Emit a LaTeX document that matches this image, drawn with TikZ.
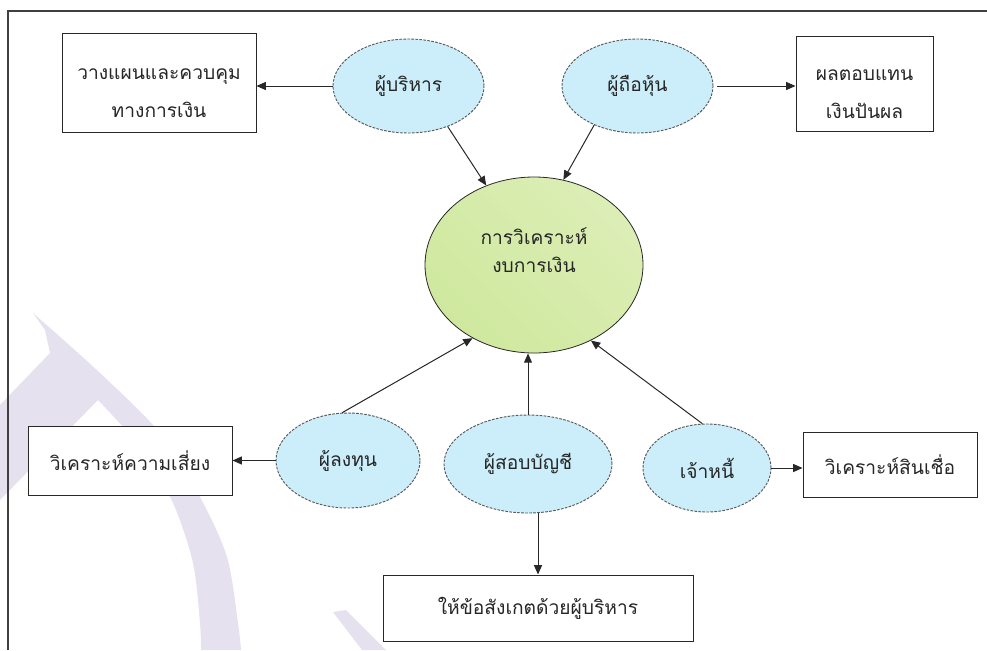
\documentclass[tikz,border=0pt]{standalone}
\usepackage{fontspec}
\newfontfamily\thaifont[Script=Thai]{Loma}
\usetikzlibrary{arrows.meta,shapes.geometric}
\definecolor{ellfill}{RGB}{204,238,250}
\definecolor{grnA}{RGB}{220,238,182}
\definecolor{grnB}{RGB}{207,232,158}
\definecolor{wmark}{RGB}{229,225,239}
\definecolor{lineC}{RGB}{40,40,40}
\begin{document}
\begin{tikzpicture}[x=0.75pt,y=-0.75pt,
  font=\thaifont\fontsize{14.4}{21}\selectfont,
  box/.style={draw=lineC,line width=0.75pt,fill=white,rectangle,inner sep=0pt,align=center,text=black!85},
  ell/.style={draw=black!65,fill=ellfill,ellipse,dash pattern=on 2pt off 1pt,line width=0.7pt,inner sep=0pt,text=black!85},
  arr/.style={draw=lineC,line width=0.75pt,-{Triangle[length=7pt,width=6pt]}}]
\useasboundingbox (0,0) rectangle (987,650);
% watermark
\fill[wmark] (0,405) -- (50,353) -- (45,330) -- (33,313)
  -- plot[smooth] coordinates {(33,313) (100,373) (160,433) (200,497) (227,557) (238,623) (241,650)}
  -- (201,650)
  -- plot[smooth] coordinates {(201,650) (200,623) (193,563) (173,503) (140,447) (98,400)}
  -- (0,500) -- cycle;
\fill[wmark] (333,612) -- (346,610) -- (386,650) -- (362,650) -- cycle;
% frame
\draw[black!75,line width=0.8pt] (8,650) -- (8,11) -- (987,11);
% nodes
\node[box,minimum width=145.5pt,minimum height=74.25pt] (b1) at (159,82.5) {\rule{0pt}{24pt}วางแผนและควบคุม\\[8pt]ทางการเงิน};
\node[box,minimum width=102.75pt,minimum height=71.25pt] (b2) at (864.5,83.5) {\rule{0pt}{24pt}ผลตอบแทน\\[8pt]เงินปันผล};
\node[box,minimum width=153pt,minimum height=51.75pt] (b3) at (130,460.5) {วิเคราะห์ความเสี่ยง};
\node[box,minimum width=130.5pt,minimum height=48.75pt] (b4) at (890,464.5) {วิเคราะห์สินเชื่อ};
\node[box,minimum width=232.5pt,minimum height=49.5pt] (b5) at (538,608) {ให้ข้อสังเกตด้วยผู้บริหาร};
\node[ell,minimum width=113.25pt,minimum height=70.5pt] (e1) at (408.5,86) {ผู้บริหาร};
\node[ell,minimum width=113.25pt,minimum height=70.5pt] (e2) at (637.5,86) {ผู้ถือหุ้น};
\node[ell,minimum width=108pt,minimum height=71.25pt] (e3) at (348,460.5) {ผู้ลงทุน};
\node[ell,minimum width=126pt,minimum height=73.5pt] (e4) at (528,464) {ผู้สอบบัญชี};
\node[ell,minimum width=96pt,minimum height=66pt] (e5) at (707,468) {เจ้าหนี้};
\node[ellipse,draw=lineC,line width=0.6pt,left color=grnA,right color=grnB,shading angle=-45,
  minimum width=163.5pt,minimum height=132pt,inner sep=0pt,align=center,text=black!85,text depth=22pt] (c) at (534,265) {การวิเคราะห์\\งบการเงิน};
% connectors
\draw[arr] (e1.west) -- (e1.west -| b1.east);
\draw[arr] ([xshift=3pt]e2.east) -- (e2.east -| b2.west);
\draw[arr] (e1.314) -- (c.121);
\draw[arr] (e2.222) -- (c.71);
\draw[arr] (e3.97) -- (c.230);
\draw[arr] (e4.north) -- (e4.north |- c.south);
\draw[arr] (e5.96) -- (c.307);
\draw[arr] (e3.west) -- (e3.west -| b3.east);
\draw[arr] (e5.east) -- (e5.east -| b4.west);
\draw[arr] ([xshift=7.5pt]e4.south) -- ([xshift=7.5pt]e4.south |- b5.north);
\end{tikzpicture}
\end{document}
